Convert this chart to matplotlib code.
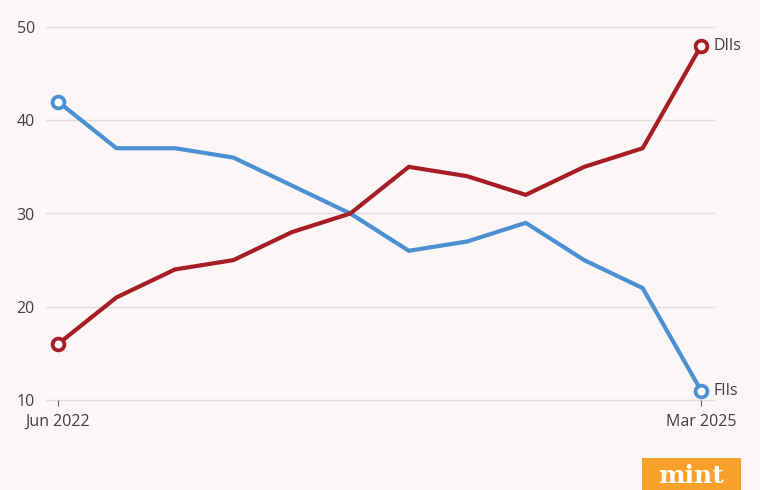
import matplotlib
matplotlib.use("Agg")
import matplotlib.pyplot as plt
from matplotlib.patches import Rectangle

quarters = ["Jun 2022", "Sep 2022", "Dec 2022", "Mar 2023", "Jun 2023", "Sep 2023",
            "Dec 2023", "Mar 2024", "Jun 2024", "Sep 2024", "Dec 2024", "Mar 2025"]
fiis = [42, 37, 37, 36, 33, 30, 26, 27, 29, 25, 22, 11]
diis = [16, 21, 24, 25, 28, 30, 35, 34, 32, 35, 37, 48]
yticks = [10, 20, 30, 40, 50]

bg = "#fdf6f6"
blue = "#4a90d2"
red = "#a61d24"
textc = "#3f3f3f"

plt.rcParams['font.family'] = ['Open Sans', 'DejaVu Sans']

fig = plt.figure(figsize=(7.6, 4.9), dpi=100, facecolor=bg)
ax = fig.add_axes([46/760, 1-400/490, (714-46)/760, (400-27)/490])
ax.set_facecolor(bg)

x = list(range(len(quarters)))
ax.plot(x, fiis, color=blue, lw=3.0, solid_capstyle='round', zorder=3)
ax.plot(x, diis, color=red, lw=3.0, solid_capstyle='round', zorder=3)
for s, c in [(fiis, blue), (diis, red)]:
    ax.plot([x[0], x[-1]], [s[0], s[-1]], 'o', ms=8.5, mfc='white', mec=c, mew=2.7,
            zorder=4, clip_on=False)

ax.set_xlim(-0.205, 11.22)
ax.set_ylim(10, 50)
ax.set_yticks(yticks)
ax.set_yticklabels([str(v) for v in yticks])
ax.set_xticks([x[0], x[-1]])
ax.set_xticklabels([quarters[0], quarters[-1]])
for v in yticks:
    ax.axhline(v, color='#e3dcdc', lw=1.0, zorder=1, clip_on=False)
for sp in ax.spines.values():
    sp.set_visible(False)
ax.tick_params(axis='y', length=0, pad=8, labelsize=11.5, labelcolor=textc)
ax.tick_params(axis='x', length=4, width=0.8, color='#666666', pad=6,
               labelsize=11.5, labelcolor=textc)

ax.annotate("DIIs", (x[-1], diis[-1]), xytext=(9, 0), textcoords='offset points',
            va='center', ha='left', fontsize=11.5, color=textc)
ax.annotate("FIIs", (x[-1], fiis[-1]), xytext=(9, 0), textcoords='offset points',
            va='center', ha='left', fontsize=11.5, color=textc)

fig.patches.append(Rectangle((642/760, 0), 99/760, 32/490, transform=fig.transFigure,
                             facecolor='#f7a02a', edgecolor='none'))
fig.text(691/760, 7/490, "mint", ha='center', va='baseline', fontsize=18,
         fontweight='bold', family='DejaVu Serif', color='white')

fig.savefig("out.png", dpi=100, facecolor=bg)
